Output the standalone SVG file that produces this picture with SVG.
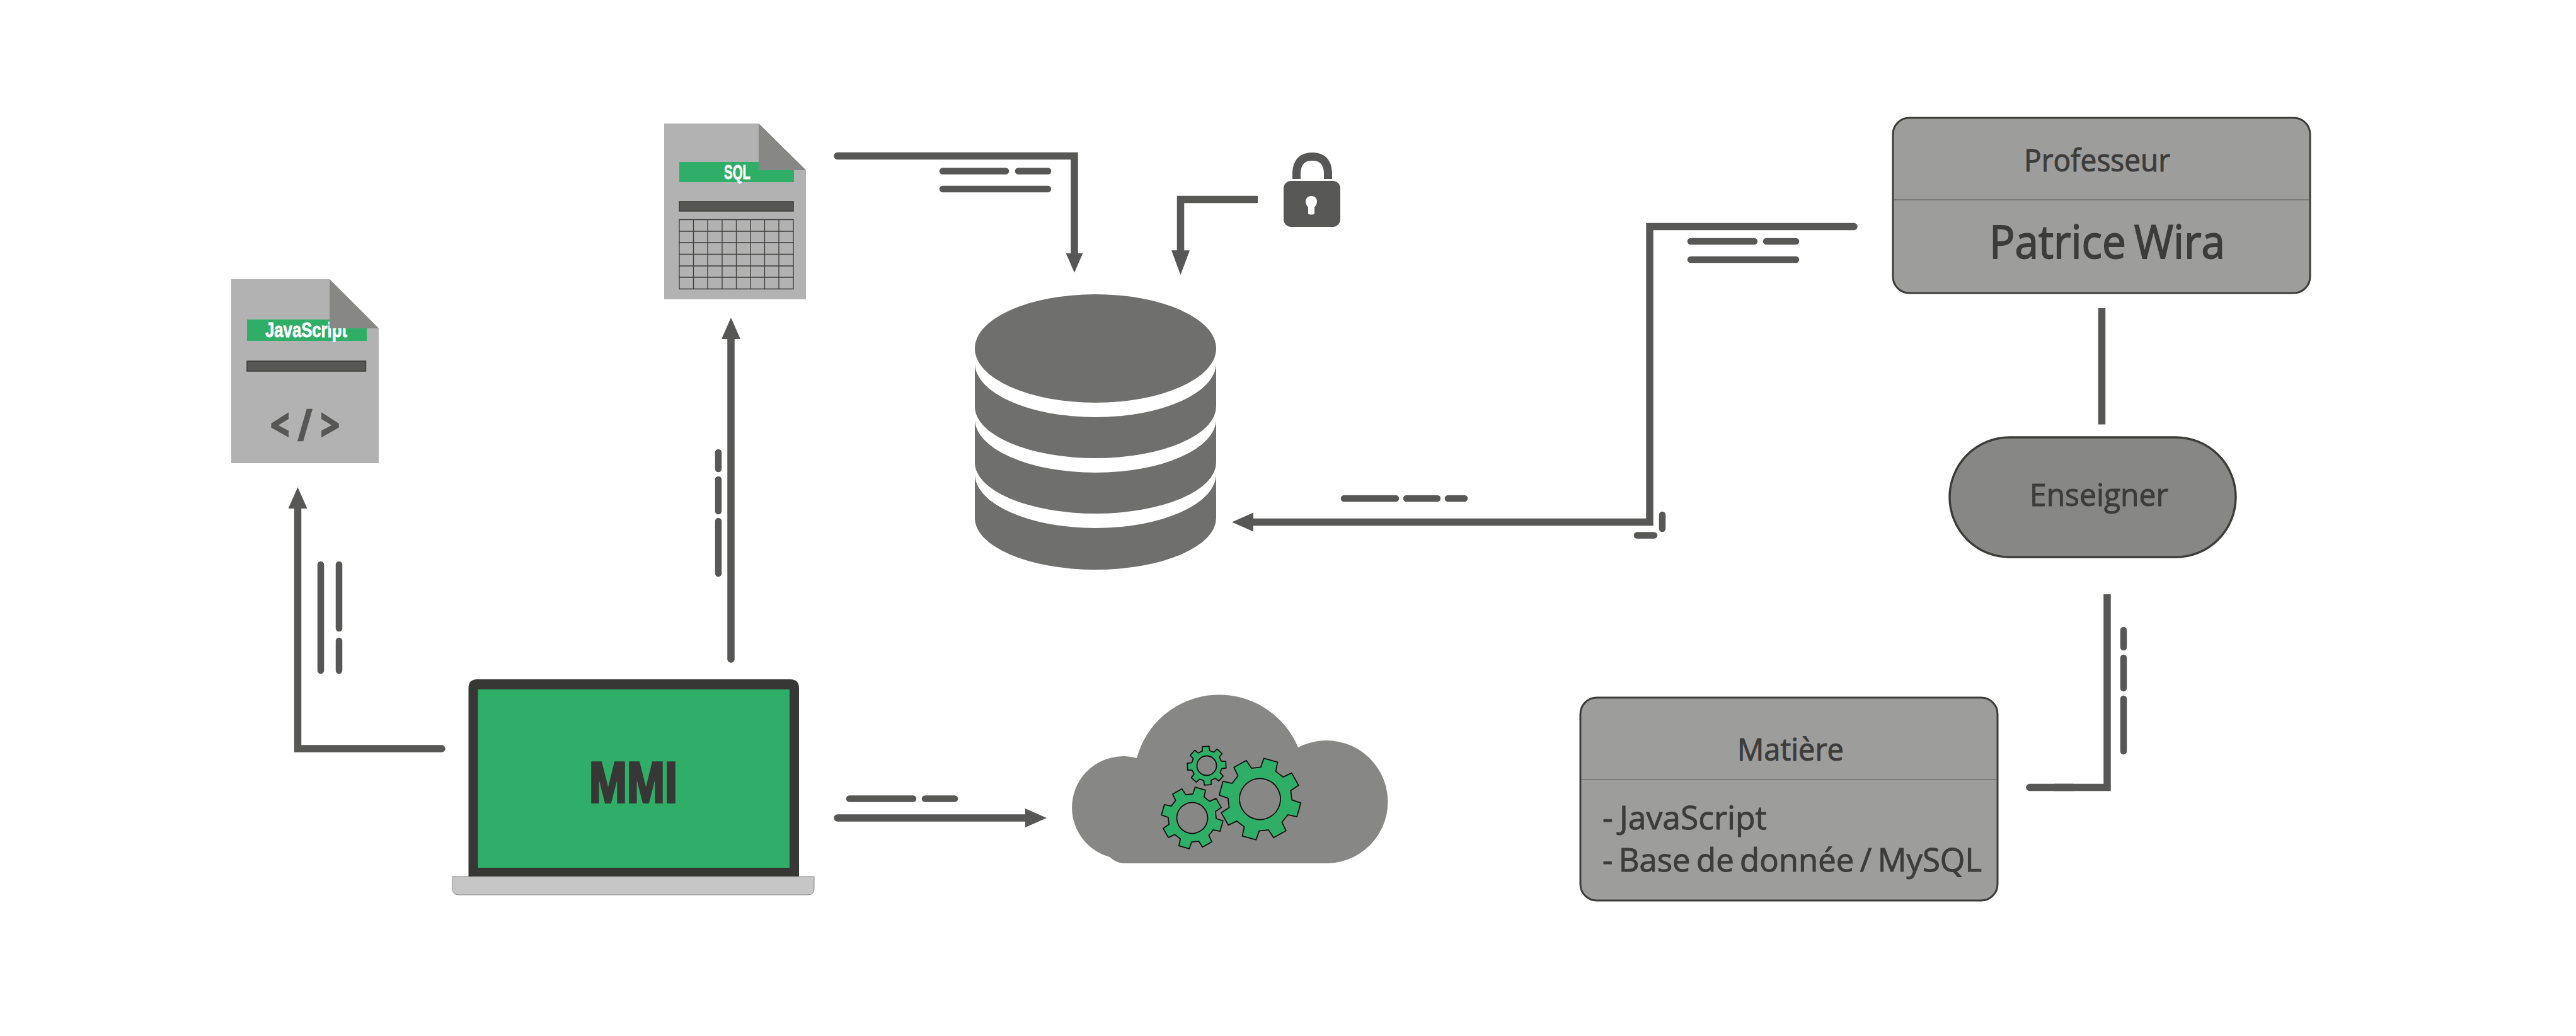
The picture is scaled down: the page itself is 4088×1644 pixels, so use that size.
<svg xmlns="http://www.w3.org/2000/svg" width="4088" height="1644" viewBox="0 0 4088 1644">
<style>
.doc{fill:#b2b2b2}.fold{fill:#878786}.band{fill:#2fae67}.bar{fill:#575756;stroke:#3c3c3b;stroke-width:1.5}
.tag{font-family:"Liberation Sans Narrow","Liberation Sans",sans-serif;font-weight:700;fill:#fff;stroke:#fff;stroke-width:.8}
.box{fill:#9d9d9c;stroke:#3c3c3b;stroke-width:3}.div{stroke:#6f6f6e;stroke-width:1.5;fill:none}
.t{font-family:"Open Sans","Noto Sans",sans-serif;fill:#3c3c3b;stroke:#3c3c3b;stroke-width:1}
.db{fill:#6f6f6e}
.gear{fill:#2fae67;fill-rule:evenodd;stroke:#111;stroke-width:1.8;stroke-linejoin:round;vector-effect:non-scaling-stroke}
.c{fill:none;stroke:#575756;stroke-width:11.500;stroke-linejoin:miter}
.r{stroke-linecap:round}
.d{fill:none;stroke:#575756;stroke-width:10.500;stroke-linecap:round}
.grid{stroke:#3c3c3b;stroke-width:1.3;fill:none}
</style>
<defs>
<marker id="ah" viewBox="0 0 34 30" refX="2" refY="15" markerWidth="34" markerHeight="30" markerUnits="userSpaceOnUse" orient="auto"><path d="M0,0L34,15L0,30Z" fill="#575756"/></marker>
<marker id="ah-short" viewBox="0 0 31 27" refX="2" refY="13.500" markerWidth="31" markerHeight="27" markerUnits="userSpaceOnUse" orient="auto"><path d="M0,0L31,13.500L0,27Z" fill="#575756"/></marker>
<marker id="ah-long" viewBox="0 0 39 29" refX="2" refY="14.500" markerWidth="39" markerHeight="29" markerUnits="userSpaceOnUse" orient="auto"><path d="M0,0L39,14.500L0,29Z" fill="#575756"/></marker>
<path id="gear" class="gear" d="M-18.9,-75.7L-17.4,-98.5L17.4,-98.5L18.9,-75.7L40.2,-66.9L57.4,-81.9L81.9,-57.4L66.9,-40.2L75.7,-18.9L98.5,-17.4L98.5,17.4L75.7,18.9L66.9,40.2L81.9,57.4L57.4,81.9L40.2,66.9L18.9,75.7L17.4,98.5L-17.4,98.5L-18.9,75.7L-40.2,66.9L-57.4,81.9L-81.9,57.4L-66.9,40.2L-75.7,18.9L-98.5,17.4L-98.5,-17.4L-75.7,-18.9L-66.9,-40.2L-81.9,-57.4L-57.4,-81.9L-40.2,-66.9ZM50,0A50,50 0 1 0 -50,0A50,50 0 1 0 50,0Z"/>
</defs>
<rect width="4088" height="1644" fill="#fff"/>
<g id="connectors">
<path class="c r" d="M701,1188H472.500V805" marker-end="url(#ah)"/>
<path class="c r" d="M1160,1046V536" marker-end="url(#ah)"/>
<path class="c r" d="M1329,1298H1629" marker-end="url(#ah)"/>
<path class="c r" d="M1329,247.500H1705V403.700" marker-end="url(#ah-short)"/>
<path class="c" d="M1996,316.500H1873.500V399.300" marker-end="url(#ah-long)"/>
<path class="c r" d="M2942,359.500H2618V828.500H1987" marker-end="url(#ah)"/>
<path class="c" d="M3335.500,489V673.500"/>
<path class="c" d="M3344,943V1249.500H3260"/>
<path class="c r" d="M3221,1249.500H3290"/>
</g>
<g id="connector-marks">
<path class="d" d="M509,896V1064M538,896V997M538,1017V1064"/>
<path class="d" d="M1140,718V744M1140,761V811M1140,827V910"/>
<path class="d" d="M1348,1267.500H1449M1468,1267.500H1515"/>
<path class="d" d="M1496,271.500H1596M1616,271.500H1663M1496,300H1663"/>
<path class="d" d="M2133,791H2215M2232,791H2281M2298,791H2324"/>
<path class="d" d="M2638,817V839M2598,849.500H2625"/>
<path class="d" d="M2683,383H2784M2803,383H2850M2683,412H2850"/>
<path class="d" d="M3370,1000V1027M3370,1044V1092M3370,1109V1192"/>
</g>
<g id="javascript-file">
<path class="doc" d="M367,443H523L601,521V735H367Z"/>
<rect class="band" x="392" y="507" width="190" height="34"/>
<text class="tag" x="421" y="534.500" font-size="33" textLength="130" lengthAdjust="spacingAndGlyphs">JavaScript</text>
<path class="fold" d="M523,443L601,521H523Z"/>
<rect class="bar" x="392" y="573" width="188.500" height="16"/>
<text x="429" y="699" font-family="'Open Sans',sans-serif" font-weight="700" font-size="68" fill="#575756" stroke="#575756" stroke-width="2.500" textLength="110" lengthAdjust="spacingAndGlyphs">&lt; / &gt;</text>
</g>
<g id="sql-file">
<path class="doc" d="M1054,196H1204L1279,270V475H1054Z"/>
<rect class="band" x="1078" y="257" width="182" height="32"/>
<text class="tag" x="1149" y="283.500" font-size="32" textLength="42" lengthAdjust="spacingAndGlyphs">SQL</text>
<path class="fold" d="M1204,196L1279,270H1204Z"/>
<rect class="bar" x="1078" y="320" width="181" height="15"/>
<path class="grid" d="M1078,348.500H1259V458.500H1078ZM1078,367H1259M1078,385H1259M1078,403.500H1259M1078,422H1259M1078,440H1259M1100.500,348.500V458.500M1123,348.500V458.500M1146,348.500V458.500M1168.500,348.500V458.500M1191,348.500V458.500M1213.500,348.500V458.500M1236,348.500V458.500"/>
</g>
<g id="database">
<ellipse class="db" cx="1738.500" cy="553" rx="191.500" ry="86"/>
<path class="db" d="M1547,576A191.500,86 0 0 0 1930,576V645A191.500,82 0 0 1 1547,645Z"/>
<path class="db" d="M1547,665A191.500,85 0 0 0 1930,665V734A191.500,81 0 0 1 1547,734Z"/>
<path class="db" d="M1547,752A191.500,86 0 0 0 1930,752V822A191.500,82 0 0 1 1547,822Z"/>
</g>
<g id="lock">
<path d="M2057.500,284V276C2057.500,256 2068,248.500 2082.500,248.500C2097,248.500 2107.500,256 2107.500,276V284" fill="none" stroke="#575756" stroke-width="13"/>
<rect x="2037" y="287" width="90" height="73" rx="12" fill="#575756"/>
<path d="M2081,311C2075,311 2072,315 2072,320C2072,324 2074,326 2076,329V339C2076,341 2086,341 2086,339V329C2088,326 2090,324 2090,320C2090,315 2087,311 2081,311Z" fill="#fff"/>
</g>
<g id="laptop">
<path d="M743.500,1391V1092Q743.500,1078 757,1078H1254Q1268,1078 1268,1092V1391Z" fill="#373736"/>
<rect class="band" x="758.500" y="1094" width="494.500" height="283"/>
<text x="935" y="1273" font-family="'Liberation Sans Narrow','Liberation Sans',sans-serif" font-weight="700" font-size="90" fill="#373736" stroke="#373736" stroke-width="4" textLength="140" lengthAdjust="spacingAndGlyphs">MMI</text>
<path d="M718,1391H1292V1410Q1292,1420 1282,1420H728Q718,1420 718,1410Z" fill="#c6c6c6" stroke="#878786" stroke-width="1"/>
</g>
<g id="cloud">
<path d="M1761,1360A80.500,80.500 0 0 1 1804,1203A135.500,135.500 0 0 1 2060,1186A97.500,97.500 0 1 1 2106,1370H1785Q1772,1370 1761,1360Z" fill="#878786"/>
<use href="#gear" transform="translate(1999.500,1268) rotate(15.500) scale(.65)"/>
<use href="#gear" transform="translate(1892,1298) rotate(15.500) scale(.49)"/>
<use href="#gear" transform="translate(1915,1215) rotate(-3) scale(.31)"/>
</g>
<g id="professeur">
<rect class="box" x="3004" y="187" width="662" height="278" rx="26"/>
<path class="div" d="M3005,317H3665"/>
<text class="t" x="3212" y="271.500" font-size="50" textLength="232" lengthAdjust="spacingAndGlyphs">Professeur</text>
<text class="t" x="3157" y="410" font-size="74" word-spacing="-5" style="stroke-width:1.800" textLength="374" lengthAdjust="spacingAndGlyphs">Patrice Wira</text>
</g>
<g id="enseigner">
<rect x="3094" y="694" width="454" height="190" rx="95" fill="#878786" stroke="#3c3c3b" stroke-width="3.500"/>
<text class="t" x="3221" y="803" font-size="50" textLength="220" lengthAdjust="spacingAndGlyphs">Enseigner</text>
</g>
<g id="matiere">
<rect class="box" x="2508" y="1107" width="662" height="322" rx="26"/>
<path class="div" d="M2509,1237H3169"/>
<text class="t" x="2757" y="1207" font-size="49" textLength="169" lengthAdjust="spacingAndGlyphs">Matière</text>
<text class="t" x="2543" y="1316" font-size="52" word-spacing="-3" textLength="261" lengthAdjust="spacingAndGlyphs">- JavaScript</text>
<text class="t" x="2543" y="1382.500" font-size="52" word-spacing="-4" textLength="602" lengthAdjust="spacingAndGlyphs">- Base de donnée / MySQL</text>
</g>
</svg>
